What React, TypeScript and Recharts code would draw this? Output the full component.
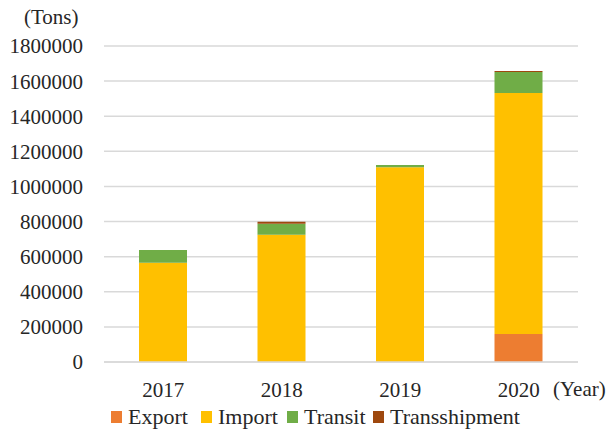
import React from "react";
import { BarChart, Bar, XAxis, YAxis, CartesianGrid } from "recharts";

const years = ["2017", "2018", "2019", "2020"];
const exportVals = [0, 0, 0, 160000];
const importVals = [566000, 725000, 1110000, 1372000];
const transitVals = [72000, 62000, 12000, 120000];
const transshipmentVals = [0, 12000, 0, 5000];
const yTicks = [0, 200000, 400000, 600000, 800000, 1000000, 1200000, 1400000, 1600000, 1800000];

const seriesNames = ["Export", "Import", "Transit", "Transshipment"];
const seriesKeys = ["export", "import", "transit", "transshipment"];
const colors = ["#ED7D31", "#FFC000", "#70AD47", "#9E480E"];
const legendX = [111, 201, 287, 373];

const data = years.map((y, i) => ({
  year: y,
  export: exportVals[i],
  import: importVals[i],
  transit: transitVals[i],
  transshipment: transshipmentVals[i],
}));

const font = "Liberation Serif";
const textColor = "#262626";

export default function App() {
  return (
    <div style={{ position: "absolute", left: 0, top: 0, width: 606, height: 430, background: "#fff", fontFamily: font }}>
      <BarChart
        width={606}
        height={430}
        data={data}
        margin={{ top: 46, right: 28, left: 0, bottom: 0 }}
        barSize={48}
        style={{ fontFamily: font }}
      >
        <CartesianGrid vertical={false} stroke="#d9d9d9" strokeWidth={1.5} />
        <XAxis
          dataKey="year"
          height={68}
          tickLine={false}
          tickSize={0}
          tickMargin={20}
          axisLine={{ stroke: "#d9d9d9", strokeWidth: 1.5 }}
          tick={{ fill: textColor, fontSize: 21, fontFamily: font }}
        />
        <YAxis
          width={104}
          domain={[0, 1800000]}
          ticks={yTicks}
          interval={0}
          axisLine={false}
          tickLine={false}
          tickSize={0}
          tickMargin={21}
          tick={{ fill: textColor, fontSize: 21, fontFamily: font }}
        />
        {seriesKeys.map((k, i) => (
          <Bar key={k} dataKey={k} name={seriesNames[i]} stackId="a" fill={colors[i]} isAnimationActive={false} />
        ))}
      </BarChart>
      <div style={{ position: "absolute", left: 24, top: 5, fontSize: 21, color: textColor, lineHeight: "24px", fontFamily: font }}>(Tons)</div>
      <div style={{ position: "absolute", left: 553, top: 377, fontSize: 21, color: textColor, lineHeight: "24px", fontFamily: font }}>(Year)</div>
      {seriesNames.map((n, i) => (
        <div key={n} style={{ position: "absolute", left: legendX[i], top: 405, height: 24, display: "flex", alignItems: "center", fontSize: 22, color: textColor, lineHeight: "24px", whiteSpace: "nowrap", fontFamily: font }}>
          <span style={{ display: "inline-block", width: 11, height: 12, background: colors[i], marginRight: 6 }} />
          <span>{n}</span>
        </div>
      ))}
    </div>
  );
}
